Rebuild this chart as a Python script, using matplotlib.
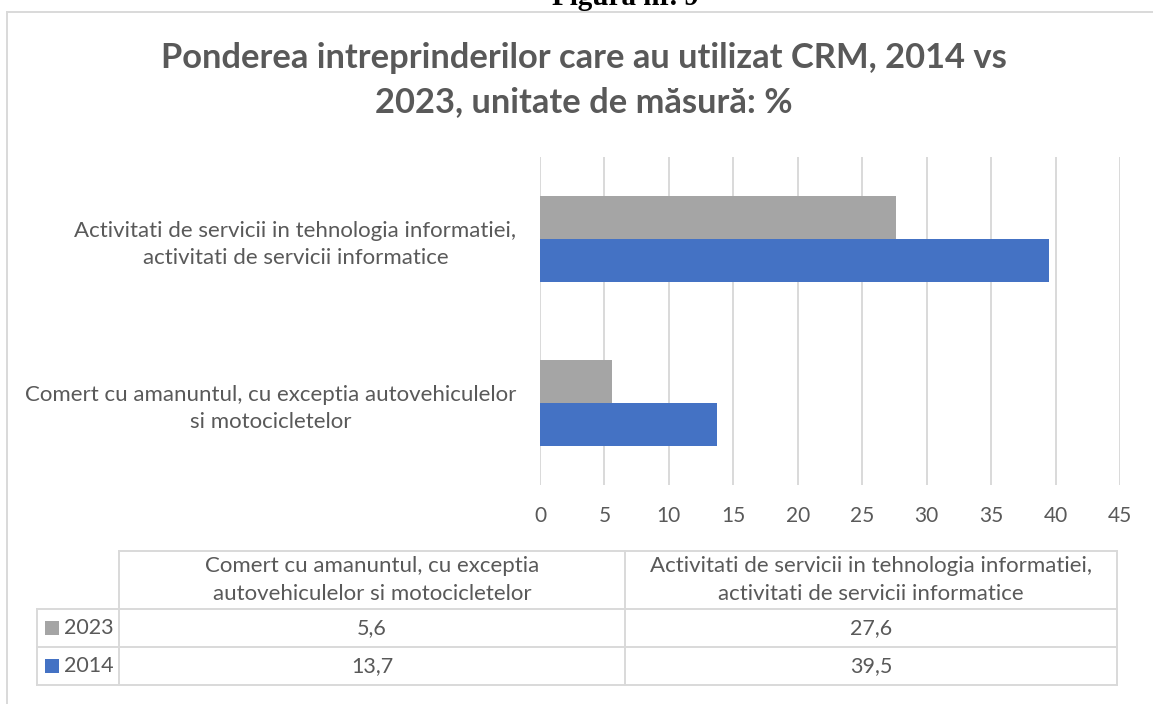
import matplotlib
matplotlib.use("Agg")
import matplotlib.pyplot as plt
from matplotlib.lines import Line2D
from matplotlib.patches import Rectangle

# date
categories = ["Comert cu amanuntul, cu exceptia autovehiculelor\nsi motocicletelor",
              "Activitati de servicii in tehnologia informatiei,\nactivitati de servicii informatice"]
table_headers = ["Comert cu amanuntul, cu exceptia\nautovehiculelor si motocicletelor",
                 "Activitati de servicii in tehnologia informatiei,\nactivitati de servicii informatice"]
series_names = ["2023", "2014"]
values_2023 = [5.6, 27.6]
values_2014 = [13.7, 39.5]
x_ticks = [0, 5, 10, 15, 20, 25, 30, 35, 40, 45]

title = "Ponderea intreprinderilor care au utilizat CRM, 2014 vs\n2023, unitate de măsură: %"
gray = "#A5A5A5"
blue = "#4472C4"
txt = "#595959"
grid = "#D9D9D9"

plt.rcParams['font.family'] = ['Lato', 'DejaVu Sans']

W, H = 1153, 704
fig = plt.figure(figsize=(W / 100, H / 100), dpi=100)


def fx(x):
    return x / W


def fy(y):
    return 1 - y / H


def hline(y, x0, x1, color=grid, lw=1.4):
    fig.add_artist(Line2D([fx(x0), fx(x1)], [fy(y), fy(y)], color=color, lw=lw))


def vline(x, y0, y1, color=grid, lw=1.4):
    fig.add_artist(Line2D([fx(x), fx(x)], [fy(y0), fy(y1)], color=color, lw=lw))


# cadrul graficului si titlul figurii
vline(7, 12, 704)
hline(12, 7, 1153)
fig.text(fx(625), fy(5), "Figura nr. 9", ha="center", va="baseline",
         fontsize=21, fontweight="bold", family="Liberation Serif", color="black")

fig.text(fx(584), fy(80), title, ha="center", va="center", fontsize=24.8,
         fontweight="bold", color=txt, linespacing=1.47)

# bare
ax = fig.add_axes([fx(540), fy(485), fx(1120) - fx(540), fy(157) - fy(485)])
h = 0.262
ypos = list(range(len(categories)))
ax.barh([y + h / 2 for y in ypos], values_2023, height=h, color=gray, label=series_names[0], zorder=3)
ax.barh([y - h / 2 for y in ypos], values_2014, height=h, color=blue, label=series_names[1], zorder=3)
ax.set_xlim(0, 45)
ax.set_ylim(-0.5, 1.5)
ax.set_xticks(x_ticks)
ax.set_yticks(ypos)
ax.set_yticklabels(categories)
for lab in ax.get_yticklabels():
    lab.set_multialignment("center")
    lab.set_linespacing(1.45)
ax.grid(axis="x", color=grid, lw=1.4, zorder=0)
for s in ax.spines.values():
    s.set_visible(False)
ax.tick_params(axis="x", length=0, pad=15, labelsize=15, labelcolor=txt)
ax.tick_params(axis="y", length=0, pad=17, labelsize=16, labelcolor=txt)

# tabelul de date
col_x = [37, 119, 625, 1117]
row_y = [551, 609, 647, 685]
hline(row_y[0], col_x[1], col_x[3])
for y in row_y[1:]:
    hline(y, col_x[0], col_x[3])
vline(col_x[0], row_y[1], row_y[3])
for x in col_x[1:]:
    vline(x, row_y[0], row_y[3])

for i, head in enumerate(table_headers):
    cx = (col_x[i + 1] + col_x[i + 2]) / 2
    fig.text(fx(cx), fy((row_y[0] + row_y[1]) / 2), head, ha="center", va="center",
             fontsize=16, color=txt, linespacing=1.5)

rows = [(series_names[0], values_2023, gray), (series_names[1], values_2014, blue)]
for r, (name, vals, col) in enumerate(rows):
    cy = (row_y[r + 1] + row_y[r + 2]) / 2
    fig.add_artist(Rectangle((fx(45), fy(cy + 7)), fx(14), fy(cy - 7) - fy(cy + 7),
                             color=col, lw=0))
    fig.text(fx(64), fy(cy), name, ha="left", va="center", fontsize=15.5, color=txt)
    for i, v in enumerate(vals):
        cx = (col_x[i + 1] + col_x[i + 2]) / 2
        fig.text(fx(cx), fy(cy), f"{v:.1f}".replace(".", ","), ha="center", va="center",
                 fontsize=15.5, color=txt)

fig.savefig("out.png", dpi=100)
